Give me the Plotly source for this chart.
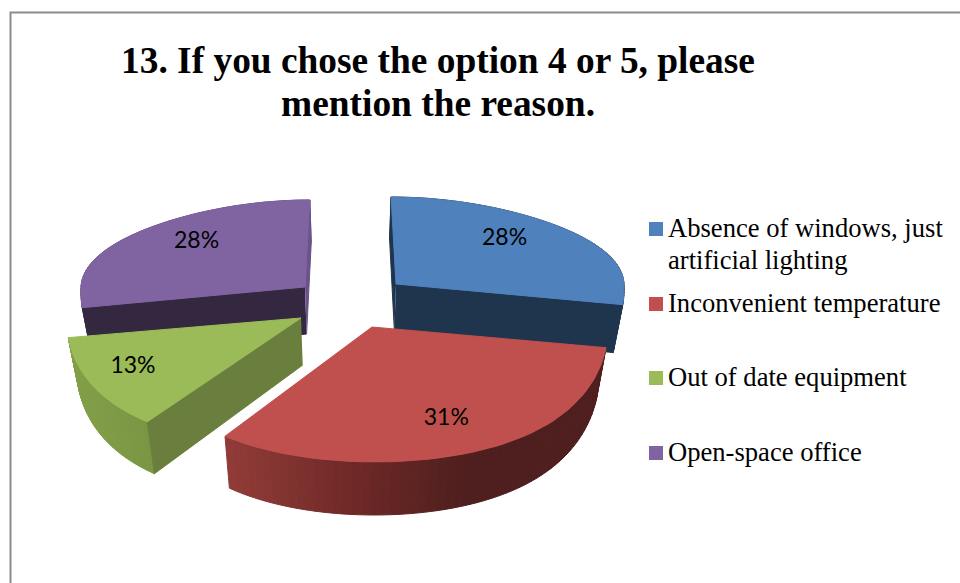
import numpy as np
import plotly.graph_objects as go

# ---- data ----
categories = ["Absence of windows, just<br>artificial lighting", "Inconvenient temperature",
              "Out of date equipment", "Open-space office"]
values = [28, 31, 13, 28]
title_lines = ["13. If you chose the option 4 or 5, please", "mention the reason."]

# ---- style / projection ----
top_colors = ["#4F81BD", "#C0504D", "#9BBB59", "#8064A2"]
cut_colors = ["#1F344D", "#4E1F1E", "#6A7F3D", "#33283F"]
sliver_colors = ["#1F344D", None, None, "#69538A"]
apex = [(396, 284), (372, 327), (301, 318), (305, 287)]
ax_r = [228, 236, 234, 224]
by_scale = [1, 1, 0.95, 1]
label_r = [0.68, 0.78, 0.85, 0.74]
label_off = [(-4, -3), (-10, 3), (8, -4), (11, 1)]
VX, B, K, SHRINK, DEPTH = 350, 105.8, 0.216, 0.965, 47
draw_order = [3, 0, 2, 1]


def project(i, u, v):
    u, v = np.asarray(u, float), np.asarray(v, float)
    s = 1 / (1 + K * v)
    sx = 1 / (1 + K * v * np.abs(v))
    sa = 1 / (1 + 0.12 * v)
    x = VX + (apex[i][0] - VX) * sa + ax_r[i] * u * sx
    y = apex[i][1] - B * by_scale[i] * v * s
    return x, y, s


def base(x, y, s):
    return VX + (x - VX) * SHRINK, y + DEPTH + (s - 1) * 22


def wall_color(i, x):
    if i == 1:
        stops_x, stops = [228, 350, 470, 620], [(145, 60, 56), (112, 42, 40), (78, 31, 30), (78, 31, 30)]
    elif i == 2:
        stops_x, stops = [65, 150], [(132, 160, 74), (122, 150, 68)]
    elif i == 0:
        stops_x, stops = [390, 620], [(31, 52, 77), (31, 52, 77)]
    else:
        stops_x, stops = [80, 310], [(95, 75, 125), (95, 75, 125)]
    c = [np.interp(x, stops_x, [p[k] for p in stops]) for k in range(3)]
    return "rgb(%d,%d,%d)" % tuple(c)


def poly(xs, ys, color, width=1):
    return go.Scatter(x=list(xs), y=list(ys), mode="lines", fill="toself", fillcolor=color,
                      line=dict(color=color, width=width), hoverinfo="skip", showlegend=False)


fig = go.Figure()
total = sum(values)
edges = np.cumsum([0] + values) / total * 360

for i in draw_order:
    t0, t1 = np.radians(edges[i]), np.radians(edges[i + 1])
    th = np.linspace(t0, t1, 61)
    x, y, s = project(i, np.sin(th), np.cos(th))
    bx, by = base(x, y, s)
    ax_, ay_ = float(project(i, 0, 0)[0]), float(project(i, 0, 0)[1])
    abx, aby = base(ax_, ay_, 1.0)
    # outer wall strips
    for j in range(len(th) - 1):
        fig.add_trace(poly([x[j], x[j + 1], bx[j + 1], bx[j], x[j]],
                           [y[j], y[j + 1], by[j + 1], by[j], y[j]],
                           wall_color(i, (x[j] + x[j + 1]) / 2)))
    # visible cut walls
    if i == 0:   # front cut = end edge, sliver = start edge
        fig.add_trace(poly([ax_, x[-1], bx[-1], abx], [ay_, y[-1], by[-1], aby], cut_colors[i]))
        fig.add_trace(poly([ax_, x[0], bx[0], abx], [ay_, y[0], by[0], aby], sliver_colors[i]))
    elif i == 3:  # front cut = start edge, sliver = end edge
        fig.add_trace(poly([ax_, x[0], bx[0], abx], [ay_, y[0], by[0], aby], cut_colors[i]))
        fig.add_trace(poly([ax_, x[-1], bx[-1], abx], [ay_, y[-1], by[-1], aby], sliver_colors[i]))
    elif i == 2:
        fig.add_trace(poly([ax_, x[0], bx[0], abx], [ay_, y[0], by[0], aby], cut_colors[i]))
    # top face
    fig.add_trace(poly([ax_] + list(x) + [ax_], [ay_] + list(y) + [ay_], top_colors[i]))

# percentage labels
lx, ly, lt = [], [], []
for i, v in enumerate(values):
    mid = np.radians((edges[i] + edges[i + 1]) / 2)
    px, py, _ = project(i, np.sin(mid) * label_r[i], np.cos(mid) * label_r[i])
    lx.append(float(px) + label_off[i][0]); ly.append(float(py) + label_off[i][1]); lt.append(f"{v}%")
fig.add_trace(go.Scatter(x=lx, y=ly, text=lt, mode="text", textposition="middle center",
                         textfont=dict(family="Lato", size=23, color="#000000"),
                         hoverinfo="skip", showlegend=False))

# legend
leg_y = [229, 304, 378, 453]
fig.add_trace(go.Scatter(x=[656] * 4, y=leg_y, mode="markers",
                         marker=dict(symbol="square", size=14, color=top_colors, line=dict(width=0)),
                         hoverinfo="skip", showlegend=False))
annotations = []
for c, ty in zip(categories, leg_y):
    for k, line in enumerate(c.split("<br>")):
        annotations.append(dict(x=666, y=ty - 1 + k * 32, text=line, xref="x", yref="y", xanchor="left",
                                yanchor="middle", align="left", showarrow=False,
                                font=dict(family="Liberation Serif", size=26.6, color="#000000")))
for line, ty in zip(title_lines, [60, 103]):
    annotations.append(dict(x=438, y=ty, text="<b>" + line + "</b>", xref="x", yref="y",
                            xanchor="center", yanchor="middle", align="center", showarrow=False,
                            font=dict(family="Liberation Serif", size=37.4, color="#000000")))

fig.update_layout(
    width=960, height=583, margin=dict(l=0, r=0, t=0, b=0),
    paper_bgcolor="white", plot_bgcolor="white", showlegend=False,
    xaxis=dict(range=[0, 960], visible=False, fixedrange=True),
    yaxis=dict(range=[583, 0], visible=False, fixedrange=True),
    annotations=annotations,
    shapes=[dict(type="path", path="M 10.5 590 L 10.5 12.5 L 970 12.5", xref="x", yref="y",
                 line=dict(color="#8C8C8C", width=2))],
)
fig.write_html("out.html", config={"displayModeBar": False},
               post_script="document.body.style.margin='0';document.body.style.overflow='hidden';")
